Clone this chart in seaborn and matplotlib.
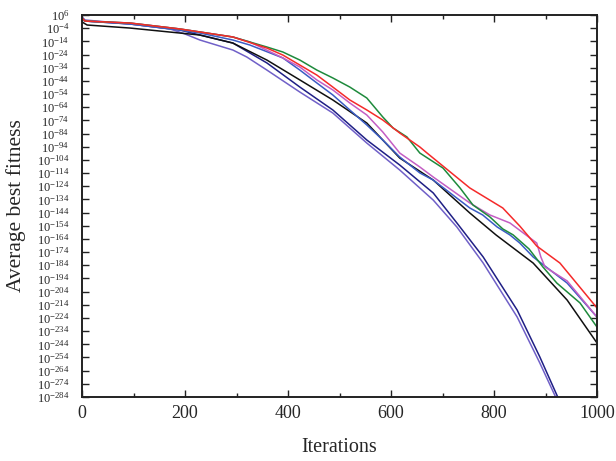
import numpy as np
import pandas as pd
import matplotlib
matplotlib.use('Agg')
import matplotlib.pyplot as plt
import seaborn as sns
from matplotlib.ticker import FixedLocator, MultipleLocator, NullLocator, FuncFormatter

# Convergence curves: iteration and log10(average best fitness)
red_it = [0, 6, 93, 190, 229, 293, 359, 390, 423, 456, 487, 520, 553, 584, 617, 656, 670, 753, 817, 850, 883, 928, 1000]
red_lg = [3.7, 1.4, -0.1, -4.6, -6.9, -10.7, -19.1, -24.4, -32.0, -39.6, -48.7, -58.5, -66.1, -73.7, -83.6, -94.2,
          -98.8, -125.3, -140.5, -154.2, -169.4, -182.3, -216.4]

green_it = [0, 6, 93, 190, 229, 293, 359, 390, 423, 456, 487, 520, 553, 584, 604, 631, 656, 701, 734, 759, 792, 817,
            837, 868, 895, 922, 967, 1000]
green_lg = [3.7, 1.4, -0.1, -4.6, -6.9, -10.7, -18.3, -22.1, -28.2, -35.8, -41.8, -48.7, -57.0, -71.4, -79.8, -86.6,
            -98.8, -110.2, -125.3, -138.2, -147.3, -156.4, -160.9, -171.6, -185.3, -197.5, -212.6, -230.9]

magenta_it = [0, 6, 93, 190, 229, 293, 326, 390, 423, 456, 487, 520, 553, 584, 617, 656, 682, 753, 792, 831, 857,
              883, 891, 899, 942, 1000]
magenta_lg = [3.7, 1.4, -0.1, -4.6, -6.9, -10.7, -14.5, -26.6, -33.5, -43.3, -50.9, -60.8, -69.9, -82.8, -98.8,
              -109.4, -117.0, -136.7, -145.8, -151.9, -159.5, -167.1, -177.7, -185.3, -195.9, -223.3]

blue_it = [0, 6, 93, 190, 229, 293, 326, 390, 423, 456, 487, 520, 553, 584, 617, 656, 682, 753, 778, 806, 831, 850,
           876, 942, 1000]
blue_lg = [3.7, 1.4, -0.8, -5.4, -7.7, -13.0, -16.8, -26.6, -35.8, -45.6, -54.7, -66.1, -77.5, -88.9, -101.8,
           -113.9, -119.3, -140.5, -145.8, -154.9, -161.0, -167.1, -177.7, -197.5, -223.3]

black_it = [0, 10, 93, 190, 229, 293, 359, 423, 487, 553, 617, 682, 753, 804, 876, 942, 1000]
black_lg = [0.7, -1.6, -3.9, -7.7, -9.2, -15.3, -28.2, -43.3, -58.5, -76.0, -102.6, -119.3, -144.3, -161.0, -182.3,
            -210.4, -243.0]

navy_it = [0, 6, 93, 190, 229, 293, 359, 423, 487, 553, 617, 682, 728, 779, 845, 889, 926]
navy_lg = [3.7, 1.4, -0.8, -5.4, -9.2, -15.3, -30.4, -48.7, -66.1, -88.9, -107.9, -129.1, -151.9, -177.7, -218.0,
           -253.6, -286.0]

purple_it = [0, 6, 93, 171, 200, 229, 293, 320, 359, 423, 487, 553, 617, 682, 728, 779, 845, 889, 922]
purple_lg = [4.5, 2.2, -0.8, -4.6, -8.4, -13.0, -20.6, -25.9, -35.8, -52.5, -68.4, -91.2, -111.7, -134.5, -155.0,
             -182.3, -223.3, -258.2, -286.0]

series = {
    'navy': (navy_it, navy_lg),
    'purple': (purple_it, purple_lg),
    'black': (black_it, black_lg),
    'blue': (blue_it, blue_lg),
    'magenta': (magenta_it, magenta_lg),
    'green': (green_it, green_lg),
    'red': (red_it, red_lg),
}
colors = {
    'navy': '#1f1f85',
    'purple': '#7060c8',
    'black': '#101010',
    'blue': '#3a5cc4',
    'magenta': '#c45ec4',
    'green': '#1e8a3c',
    'red': '#f52a2a',
}

frames = []
for name, (it, lg) in series.items():
    frames.append(pd.DataFrame({'iter': it, 'fit': 10.0 ** np.array(lg), 'alg': name}))
df = pd.concat(frames, ignore_index=True)

sns.set_style('ticks')
plt.rcParams['font.family'] = ['Liberation Serif', 'DejaVu Serif']
plt.rcParams['mathtext.fontset'] = 'custom'
plt.rcParams['mathtext.rm'] = 'Liberation Serif'

fig = plt.figure(figsize=(6.16, 4.61), dpi=100)
ax = fig.add_axes([82 / 616, 1 - 397 / 461, 515 / 616, 382 / 461])
ax.set_yscale('log')

sns.lineplot(data=df, x='iter', y='fit', hue='alg', palette=colors, hue_order=list(series.keys()),
             estimator=None, sort=False, linewidth=1.1, legend=False, ax=ax)

ax.set_xlim(0, 1000)
ax.set_ylim(1e-284, 1e6)
ax.xaxis.set_major_locator(MultipleLocator(200))
ax.xaxis.set_minor_locator(MultipleLocator(100))
ax.yaxis.set_major_locator(FixedLocator(10.0 ** np.arange(6, -285, -10)))
ax.yaxis.set_minor_locator(NullLocator())
ax.yaxis.set_major_formatter(FuncFormatter(lambda v, p: r'$\mathdefault{10^{%d}}$' % round(np.log10(v))))

ax.tick_params(which='both', direction='in', top=True, right=True, width=1.0, color='#222222')
ax.tick_params(which='major', length=5)
ax.tick_params(which='minor', length=3)
ax.tick_params(axis='x', labelsize=13, pad=6)
ax.tick_params(axis='y', labelsize=9.0, pad=9)
for s in ax.spines.values():
    s.set_linewidth(1.4)
    s.set_color('#222222')

ax.set_xlabel('Iterations', fontsize=14.5, labelpad=11)
ax.set_ylabel('Average best fitness', fontsize=15.5, labelpad=8)

plt.savefig('out.png', dpi=100)
